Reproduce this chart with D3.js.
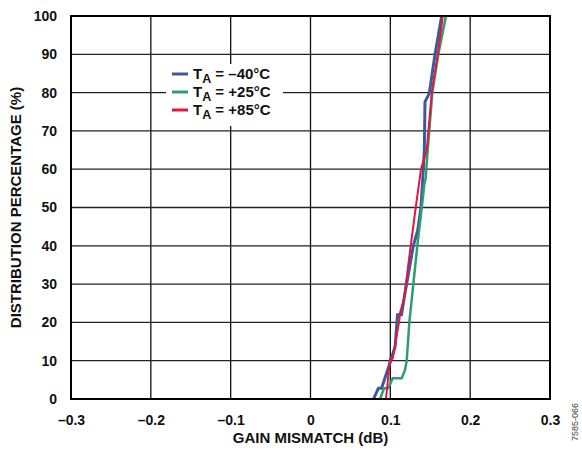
<!DOCTYPE html>
<html><head><meta charset="utf-8">
<script src="https://cdn.jsdelivr.net/npm/d3@7"></script>
<style>
body{margin:0;background:#fff;}
text{font-family:"Liberation Sans",Arial,sans-serif;}
</style></head>
<body><svg id="c" width="582" height="450"></svg>
<script>
const xTicks = [-0.3, -0.2, -0.1, 0, 0.1, 0.2, 0.3];
const xTickLabels = ["–0.3", "–0.2", "–0.1", "0", "0.1", "0.2", "0.3"];
const yTicks = [0, 10, 20, 30, 40, 50, 60, 70, 80, 90, 100];

const seriesNames = ["–40°C", "+25°C", "+85°C"];
const seriesColors = ["#3b5a9c", "#2f9e6b", "#e2163f"];

const blueX = [0.079, 0.085, 0.089, 0.1005, 0.106, 0.109, 0.114, 0.117, 0.1288, 0.1343, 0.1384, 0.1413, 0.1426, 0.1434, 0.1488, 0.156, 0.1643];
const blueY = [0, 2.8, 2.8, 10, 13.7, 22, 22, 26, 40, 44, 50, 60, 65, 77.6, 79.8, 90, 100];

const greenX = [0.0871, 0.0921, 0.0975, 0.103, 0.1143, 0.1184, 0.1205, 0.1238, 0.1268, 0.1338, 0.1393, 0.1426, 0.1443, 0.1468, 0.1526, 0.1601, 0.1697];
const greenY = [0, 2.8, 2.8, 5.4, 5.4, 7.6, 10, 20, 26, 40, 50, 56, 57.7, 65, 80, 90, 100];

const redX = [0.0946, 0.0996, 0.103, 0.1113, 0.1121, 0.117, 0.1255, 0.1318, 0.1384, 0.1456, 0.1519, 0.1594, 0.1657];
const redY = [0, 10.6, 10.6, 20.6, 22.5, 26, 40, 50, 60, 65, 80, 90, 100];

const seriesX = [blueX, greenX, redX];
const seriesY = [blueY, greenY, redY];
const seriesWidths = [3, 2.5, 2];

const L = 71, R = 550, T = 16, B = 399;
const svg = d3.select("#c");
const x = d3.scaleLinear().domain([-0.3, 0.3]).range([L, R]);
const y = d3.scaleLinear().domain([0, 100]).range([B, T]);

// grid
const g = svg.append("g");
g.selectAll(".vx").data(xTicks.slice(1, -1)).enter().append("line")
  .attr("x1", d => x(d)).attr("x2", d => x(d)).attr("y1", T).attr("y2", B)
  .attr("stroke", "#111").attr("stroke-width", 1.3);
g.selectAll(".hy").data(yTicks.slice(1, -1)).enter().append("line")
  .attr("x1", L).attr("x2", R).attr("y1", d => y(d)).attr("y2", d => y(d))
  .attr("stroke", "#222").attr("stroke-width", 1.3);

// legend background
svg.append("rect").attr("x", 166).attr("y", 64).attr("width", 117).attr("height", 62).attr("fill", "#fff");

// axes labels via d3 axes
const xAxis = svg.append("g").attr("transform", `translate(0,${B})`)
  .call(d3.axisBottom(x).tickValues(xTicks).tickSize(0).tickPadding(16).tickFormat((d, i) => xTickLabels[i]));
xAxis.select(".domain").remove();
xAxis.selectAll("text").attr("font-size", 14).attr("font-weight", "bold").attr("fill", "#111")
  .attr("font-family", "Liberation Sans, Arial, sans-serif");

const yAxis = svg.append("g").attr("transform", `translate(${L},0)`)
  .call(d3.axisLeft(y).tickValues(yTicks).tickSize(0).tickPadding(14));
yAxis.select(".domain").remove();
yAxis.selectAll("text").attr("font-size", 14).attr("font-weight", "bold").attr("fill", "#111")
  .attr("font-family", "Liberation Sans, Arial, sans-serif");

// series
const line = d3.line().x(d => x(d[0])).y(d => y(d[1]));
seriesX.forEach((xs, i) => {
  const pts = xs.map((v, j) => [v, seriesY[i][j]]);
  svg.append("path").datum(pts).attr("d", line).attr("fill", "none")
    .attr("stroke", seriesColors[i]).attr("stroke-width", seriesWidths[i])
    .attr("stroke-linejoin", "miter");
});

// frame
svg.append("rect").attr("x", L).attr("y", T).attr("width", R - L).attr("height", B - T)
  .attr("fill", "none").attr("stroke", "#000").attr("stroke-width", 2);

// legend
const legY = [74, 92, 110];
seriesNames.forEach((n, i) => {
  svg.append("line").attr("x1", 172).attr("x2", 188).attr("y1", legY[i]).attr("y2", legY[i])
    .attr("stroke", seriesColors[i]).attr("stroke-width", 3);
  const t = svg.append("text").attr("x", 193).attr("y", legY[i] + 5)
    .attr("font-size", 15).attr("font-weight", "bold").attr("fill", "#111");
  t.append("tspan").text("T");
  t.append("tspan").attr("font-size", 12.5).attr("dy", 4).text("A");
  t.append("tspan").attr("dy", -4).text(" = " + n);
});

// axis titles
svg.append("text").attr("x", (L + R) / 2).attr("y", 443).attr("text-anchor", "middle")
  .attr("font-size", 15).attr("font-weight", "bold").attr("fill", "#111").text("GAIN MISMATCH (dB)");
svg.append("text").attr("transform", `translate(21,${(T + B) / 2}) rotate(-90)`).attr("text-anchor", "middle")
  .attr("font-size", 15).attr("font-weight", "bold").attr("fill", "#111").text("DISTRIBUTION PERCENTAGE (%)");

svg.append("text").attr("transform", "translate(578,422) rotate(-90)").attr("text-anchor", "middle")
  .attr("font-size", 9).attr("fill", "#444").text("7585-066");
</script></body></html>
